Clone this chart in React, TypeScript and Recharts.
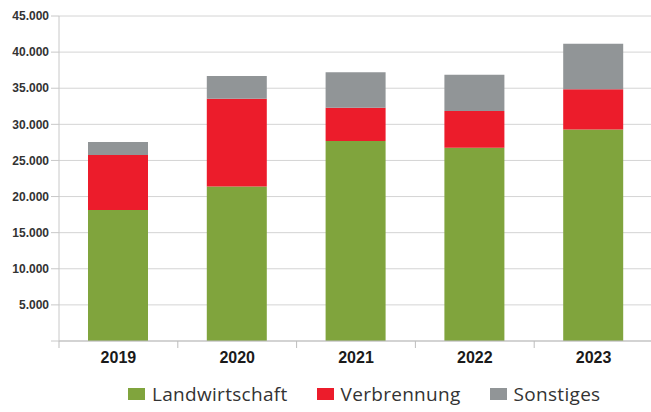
import { BarChart, Bar, XAxis, YAxis, CartesianGrid, Legend } from "recharts";

const years = ["2019", "2020", "2021", "2022", "2023"];
const landwirtschaft = [18150, 21400, 27700, 26750, 29300];
const verbrennung = [7600, 12150, 4600, 5100, 5550];
const sonstiges = [1800, 3150, 4900, 5000, 6300];
const yTicks = [0, 5000, 10000, 15000, 20000, 25000, 30000, 35000, 40000, 45000];

const series = [
  { key: "landwirtschaft", name: "Landwirtschaft", color: "#80a43d" },
  { key: "verbrennung", name: "Verbrennung", color: "#ec1c2b" },
  { key: "sonstiges", name: "Sonstiges", color: "#919597" },
];

const data = years.map((year, i) => ({
  year,
  landwirtschaft: landwirtschaft[i],
  verbrennung: verbrennung[i],
  sonstiges: sonstiges[i],
}));

const formatThousands = (v: number) =>
  v === 0 ? "" : String(v).replace(/\B(?=(\d{3})+(?!\d))/g, ".");

const XTick = (props: any) => {
  const { x, y, payload, width, visibleTicksCount } = props;
  const band = width && visibleTicksCount ? width / visibleTicksCount : 118.8;
  return (
    <g>
      <line x1={x - band / 2} x2={x - band / 2} y1={y} y2={y + 7} stroke="#bdbdbd" />
      <text
        x={x}
        y={y + 22}
        textAnchor="middle"
        fill="#1a1a1a"
        fontSize={16}
        fontWeight="bold"
        fontFamily="'Liberation Sans', Arial, sans-serif"
      >
        {payload.value}
      </text>
    </g>
  );
};

const LegendContent = () => (
  <div
    style={{
      display: "flex",
      alignItems: "center",
      height: 41,
      paddingLeft: 128,
      paddingTop: 4,
      boxSizing: "border-box",
      fontFamily: "'Open Sans', sans-serif",
      fontSize: 19,
      letterSpacing: 0.3,
      color: "#333",
    }}
  >
    {series.map((s, i) => (
      <div
        key={s.key}
        style={{ display: "flex", alignItems: "center", marginRight: i < series.length - 1 ? 29 : 0 }}
      >
        <span style={{ width: 17, height: 12, background: s.color, display: "inline-block", marginRight: 7 }} />
        <span>{s.name}</span>
      </div>
    ))}
  </div>
);

export default function App() {
  return (
    <div style={{ position: "absolute", left: 0, top: 0, width: 651, height: 412, background: "#fff" }}>
      <BarChart
        width={651}
        height={412}
        data={data}
        margin={{ top: 16, right: -2, bottom: 0, left: 0 }}
        barSize={60}
      >
        <CartesianGrid vertical={false} stroke="#d4d4d4" />
        <XAxis
          dataKey="year"
          height={30}
          tickSize={0}
          tickMargin={0}
          tickLine={false}
          axisLine={{ stroke: "#bdbdbd" }}
          tick={<XTick />}
          interval={0}
        />
        <YAxis
          width={59}
          domain={[0, 45000]}
          ticks={yTicks}
          tickFormatter={formatThousands}
          tickSize={8}
          tickMargin={2}
          tickLine={{ stroke: "#c8c8c8" }}
          axisLine={{ stroke: "#c8c8c8" }}
          tick={{ fill: "#333", fontSize: 12, fontWeight: "bold", fontFamily: "'Liberation Sans', Arial, sans-serif" }}
        />
        <Legend verticalAlign="bottom" height={41} content={<LegendContent />} wrapperStyle={{ left: 0, width: 651 }} />
        {series.map((s) => (
          <Bar key={s.key} dataKey={s.key} name={s.name} stackId="a" fill={s.color} isAnimationActive={false} />
        ))}
      </BarChart>
    </div>
  );
}
